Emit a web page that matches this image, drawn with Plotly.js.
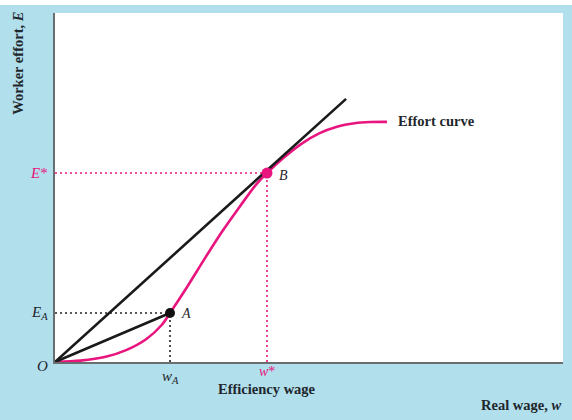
<!DOCTYPE html>
<html>
<head>
<meta charset="utf-8">
<script src="https://cdn.plot.ly/plotly-3.0.1.min.js"></script>
<style>
  html, body { margin: 0; padding: 0; background: #ffffff; }
  #chart { position: absolute; left: 0; top: 5px; width: 572px; height: 415px; }
</style>
</head>
<body>
<div id="chart"></div>
<script>
// Effort curve (real wage w, worker effort E)
const effortW = [0, 0.5, 1.0, 1.4, 1.8, 2.1, 2.264, 2.6, 2.95, 3.3, 3.65, 3.95, 4.173, 4.5, 4.85, 5.2, 5.55, 5.9, 6.2, 6.535];
const effortE = [0, 0.04, 0.15, 0.34, 0.66, 1.06, 1.404, 2.15, 2.97, 3.76, 4.48, 5.07, 5.415, 5.85, 6.25, 6.55, 6.74, 6.84, 6.875, 6.88];

// Ray from origin tangent to the effort curve at B
const tangentW = [0, 5.73];
const tangentE = [0, 7.54];

// Points A and B
const pointW = [2.264, 4.173];
const pointE = [1.404, 5.415];
const pointLabels = ['A', 'B'];

// Axis tick labels
const yTickLabels = ['<i>E</i><sub><i>A</i></sub>', '<i>E</i>*'];
const xTickLabels = ['<i>w</i><sub><i>A</i></sub>', '<i>w</i>*'];

const PINK = '#e8157f';
const INK = '#1f272c';
const SERIF = 'Liberation Serif, Times New Roman, serif';
const XMAX = 10, YMAX = 10;

const traces = [
  { x: [0, pointW[0]], y: [pointE[0], pointE[0]], mode: 'lines',
    line: { color: '#222', width: 1.6, dash: '2px,3px' }, hoverinfo: 'skip' },
  { x: [pointW[0], pointW[0]], y: [0, pointE[0]], mode: 'lines',
    line: { color: '#222', width: 1.6, dash: '2px,3px' }, hoverinfo: 'skip' },
  { x: [0, pointW[1]], y: [pointE[1], pointE[1]], mode: 'lines',
    line: { color: PINK, width: 1.6, dash: '2px,3px' }, hoverinfo: 'skip' },
  { x: [pointW[1], pointW[1]], y: [0, pointE[1]], mode: 'lines',
    line: { color: PINK, width: 1.6, dash: '2px,3px' }, hoverinfo: 'skip' },
  { x: effortW, y: effortE, mode: 'lines',
    line: { color: PINK, width: 2.6, shape: 'spline', smoothing: 0.8 }, hoverinfo: 'skip' },
  { x: [0, pointW[0]], y: [0, pointE[0]], mode: 'lines',
    line: { color: '#1a1a1a', width: 2.6 }, hoverinfo: 'skip' },
  { x: tangentW, y: tangentE, mode: 'lines',
    line: { color: '#1a1a1a', width: 2.6 }, hoverinfo: 'skip' },
  { x: [pointW[0]], y: [pointE[0]], mode: 'markers',
    marker: { color: '#111', size: 10 }, hoverinfo: 'skip' },
  { x: [pointW[1]], y: [pointE[1]], mode: 'markers',
    marker: { color: PINK, size: 11 }, hoverinfo: 'skip' }
];

// annotations placed in paper coordinates (data / range) so they may sit outside the plot area
function ann(xd, yd, text, opts) {
  return Object.assign({ xref: 'paper', yref: 'paper', x: xd / XMAX, y: yd / YMAX,
    text: text, showarrow: false, yanchor: 'middle' }, opts);
}

const annotations = [
  ann(-0.1, pointE[0], yTickLabels[0], { xanchor: 'right', font: { family: SERIF, size: 15, color: INK } }),
  ann(-0.1, pointE[1], yTickLabels[1], { xanchor: 'right', font: { family: SERIF, size: 15, color: PINK } }),
  ann(-0.1, -0.12, '<i>O</i>', { xanchor: 'right', font: { family: SERIF, size: 15, color: INK } }),
  ann(pointW[0], -0.42, xTickLabels[0], { xanchor: 'center', font: { family: SERIF, size: 15, color: INK } }),
  ann(pointW[1], -0.28, xTickLabels[1], { xanchor: 'center', font: { family: SERIF, size: 14, color: PINK } }),
  ann(4.17, -0.78, '<b>Efficiency wage</b>', { xanchor: 'center', font: { family: SERIF, size: 14.5, color: INK } }),
  ann(pointW[0] + 0.18, pointE[0], '<i>' + pointLabels[0] + '</i>', { xanchor: 'left', font: { family: SERIF, size: 14, color: INK } }),
  ann(pointW[1] + 0.2, pointE[1] - 0.06, '<i>' + pointLabels[1] + '</i>', { xanchor: 'left', font: { family: SERIF, size: 14, color: INK } }),
  ann(6.72, 6.9, '<b>Effort curve</b>', { xanchor: 'left', font: { family: SERIF, size: 14.5, color: INK } }),
  ann(10, -1.24, '<b>Real wage, <i>w</i></b>', { xanchor: 'right', font: { family: SERIF, size: 14.5, color: INK } }),
  ann(-0.73, 8.57, '<b>Worker effort, <i>E</i></b>', { xanchor: 'center', textangle: -90, font: { family: SERIF, size: 14.5, color: INK } })
];

const layout = {
  width: 572,
  height: 415,
  margin: { l: 55, r: 9, t: 8, b: 58 },
  paper_bgcolor: '#b1dfec',
  plot_bgcolor: '#ffffff',
  showlegend: false,
  xaxis: {
    range: [0, XMAX], showgrid: false, zeroline: false, showticklabels: false, ticks: '',
    showline: true, linecolor: '#6a6e70', linewidth: 2, fixedrange: true
  },
  yaxis: {
    range: [0, YMAX], showgrid: false, zeroline: false, showticklabels: false, ticks: '',
    showline: true, linecolor: '#6a6e70', linewidth: 2, fixedrange: true
  },
  annotations: annotations
};

Plotly.newPlot('chart', traces, layout, { displayModeBar: false, staticPlot: true });
</script>
</body>
</html>
